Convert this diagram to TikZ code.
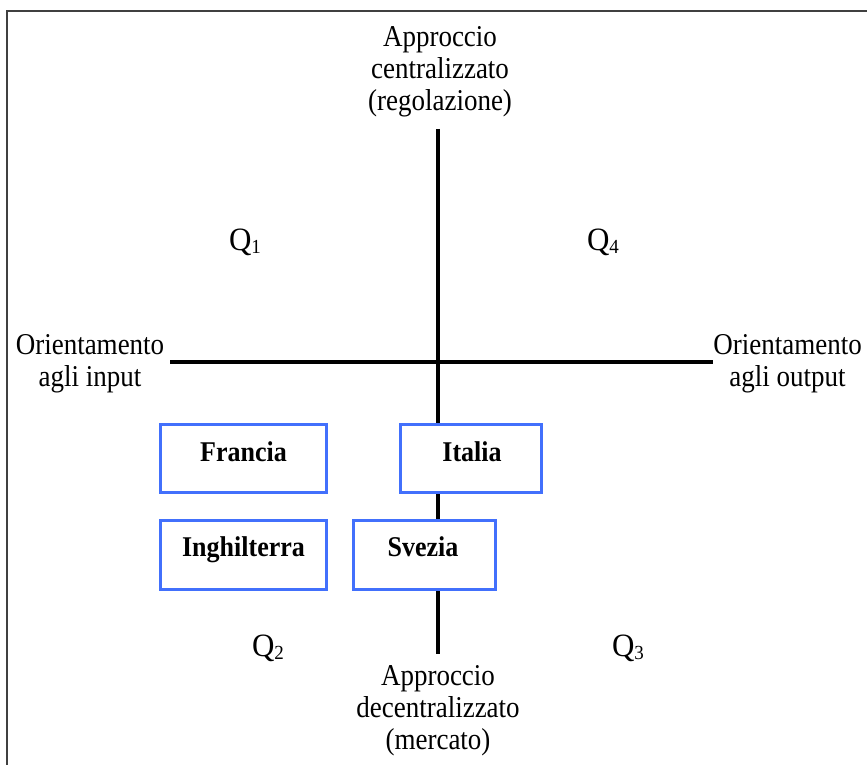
\documentclass[tikz,border=0pt]{standalone}
\usepackage{fontspec}
\usepackage{graphicx}
\setmainfont{Liberation Serif}
\definecolor{boxblue}{RGB}{66,112,252}
\definecolor{framegray}{RGB}{64,64,64}
\newcommand\vstr[1]{\scalebox{1}[1.12]{\begin{tabular}{@{}c@{}}#1\end{tabular}}}
\newcommand\vone[1]{\scalebox{1}[1.1]{#1}}
\newcommand\qname[1]{\scalebox{1}[1.05]{Q\raisebox{-3pt}{\fontsize{19}{22}\selectfont #1}}}
\tikzset{
  lbl/.style={font=\fontsize{27}{28.6}\selectfont, inner sep=0pt},
  qlbl/.style={font=\fontsize{31}{34}\selectfont, inner sep=0pt},
  cbox/.style={draw=boxblue, line width=3pt, fill=white, inner sep=0pt},
  boxtext/.style={font=\fontsize{26}{30}\selectfont\bfseries, inner sep=0pt, anchor=base},
  axis/.style={line width=3.2pt, black},
}
\begin{document}
\begin{tikzpicture}[x=1pt,y=-1pt]
\useasboundingbox (0,0) rectangle (867,765);
\draw[framegray, line width=2pt] (7,770) -- (7,11) -- (875,11);
% axes
\coordinate (vtop) at (438,129);
\coordinate (vbot) at (438,654);
\coordinate (hleft) at (170,362);
\coordinate (hright) at (713,362);
\draw[axis] (vtop) -- (vbot);
\draw[axis] (hleft) -- (hright);
% boxes
\node[cbox, minimum width=166pt, minimum height=68pt] (francia) at (243.5,458.5) {};
\node[cbox, minimum width=141pt, minimum height=68pt] (italia) at (471,458.5) {};
\node[cbox, minimum width=166pt, minimum height=69pt] (inghilterra) at (243.5,555) {};
\node[cbox, minimum width=142pt, minimum height=69pt] (svezia) at (424.5,555) {};
\node[boxtext] (tfrancia) at (243.5,461) {\vone{Francia}};
\node[boxtext] (titalia) at (472,461) {\vone{Italia}};
\node[boxtext] (tinghilterra) at (243.5,556) {\vone{Inghilterra}};
\node[boxtext] (tsvezia) at (423,556) {\vone{Svezia}};
% axis labels
\node[lbl] (top) at (440,72) {\vstr{Approccio\\centralizzato\\(regolazione)}};
\node[lbl] (bottom) at (438,711) {\vstr{Approccio\\decentralizzato\\(mercato)}};
\node[lbl] (left) at (90,364.5) {\vstr{Orientamento\\agli input}};
\node[lbl] (right) at (787.5,364.5) {\vstr{Orientamento\\agli output}};
% quadrants
\node[qlbl] (q1) at (245,242) {\qname{1}};
\node[qlbl] (q4) at (603,242) {\qname{4}};
\node[qlbl] (q2) at (268,648) {\qname{2}};
\node[qlbl] (q3) at (628,648) {\qname{3}};
\end{tikzpicture}
\end{document}
